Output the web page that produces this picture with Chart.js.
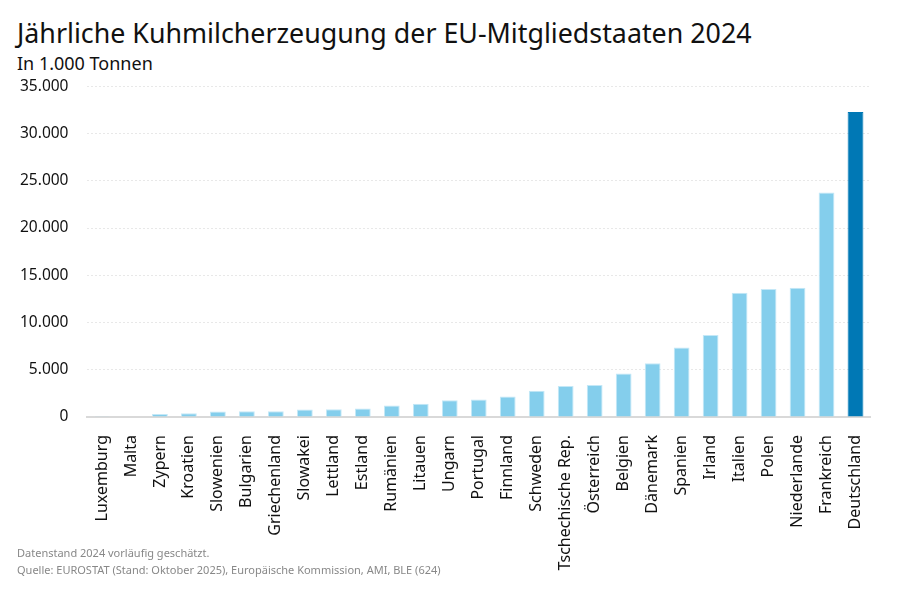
<!DOCTYPE html>
<html>
<head>
<meta charset="utf-8">
<script src="https://cdn.jsdelivr.net/npm/chart.js@4.4.1/dist/chart.umd.min.js"></script>
<style>
    body { margin: 0; background: #fff; font-family: "Noto Sans", sans-serif; }
    #wrap { position: relative; width: 900px; height: 589px; }
    #title { position: absolute; left: 17px; top: 14px; font-size: 26.8px; color: #111; }
    #subtitle { position: absolute; left: 17px; top: 51px; font-size: 18px; color: #111; }
    #box { position: absolute; left: 0; top: 58px; width: 900px; height: 531px; }
    #footer { position: absolute; left: 17px; top: 544px; font-size: 11px; color: #888; line-height: 17px; }
</style>
</head>
<body>
<div id="wrap">
    <div id="title">Jährliche Kuhmilcherzeugung der EU-Mitgliedstaaten 2024</div>
    <div id="subtitle">In 1.000 Tonnen</div>
    <div id="box"><canvas id="chart" width="900" height="531"></canvas></div>
    <div id="footer">Datenstand 2024 vorläufig geschätzt.<br>Quelle: EUROSTAT (Stand: Oktober 2025), Europäische Kommission, AMI, BLE (624)</div>
</div>
<script>
    const countries = ["Luxemburg", "Malta", "Zypern", "Kroatien", "Slowenien", "Bulgarien", "Griechenland",
        "Slowakei", "Lettland", "Estland", "Rumänien", "Litauen", "Ungarn", "Portugal", "Finnland", "Schweden",
        "Tschechische Rep.", "Österreich", "Belgien", "Dänemark", "Spanien", "Irland", "Italien", "Polen",
        "Niederlande", "Frankreich", "Deutschland"];
    const production = [20, 40, 320, 390, 570, 600, 600, 790, 820, 900, 1220, 1400, 1760, 1840, 2160, 2770,
        3270, 3380, 4600, 5680, 7350, 8680, 13140, 13540, 13680, 23760, 32290];
    const yTicks = [0, 5000, 10000, 15000, 20000, 25000, 30000, 35000];

    // Deutschland hervorheben
    const barColors = countries.map(c => c == "Deutschland" ? "#0078b5" : "#84ceec");
    const borderColors = countries.map(c => c == "Deutschland" ? "#0078b5" : "#c4e8f7");

    new Chart(document.getElementById("chart"), {
        type: "bar",
        data: {
            labels: countries,
            datasets: [{
                data: production,
                backgroundColor: barColors,
                borderColor: borderColors,
                borderWidth: 1,
                barPercentage: 0.545,
                categoryPercentage: 1
            }]
        },
        options: {
            responsive: false,
            animation: false,
            locale: "de-DE",
            layout: { padding: { top: 0, left: 1, right: 30, bottom: 0 } },
            plugins: {
                legend: { display: false },
                tooltip: { enabled: false }
            },
            scales: {
                x: {
                    // feste Höhe für die gedrehten Ländernamen
                    afterFit: scale => { scale.height = 172; },
                    grid: { display: false },
                    border: { color: "#d9d9d9", width: 2 },
                    ticks: {
                        minRotation: 90,
                        maxRotation: 90,
                        autoSkip: false,
                        padding: 10,
                        color: "#111",
                        font: { family: "Noto Sans", size: 16 }
                    }
                },
                y: {
                    min: 0,
                    max: 35000,
                    afterBuildTicks: axis => { axis.ticks = yTicks.map(v => ({ value: v })); },
                    grid: { color: "#e8e8e8", drawTicks: false },
                    border: { display: false, dash: [2, 2] },
                    ticks: {
                        padding: 19,
                        color: "#111",
                        font: { family: "Noto Sans", size: 15.5 },
                        callback: v => v.toLocaleString("de-DE")
                    }
                }
            }
        }
    });
</script>
</body>
</html>
